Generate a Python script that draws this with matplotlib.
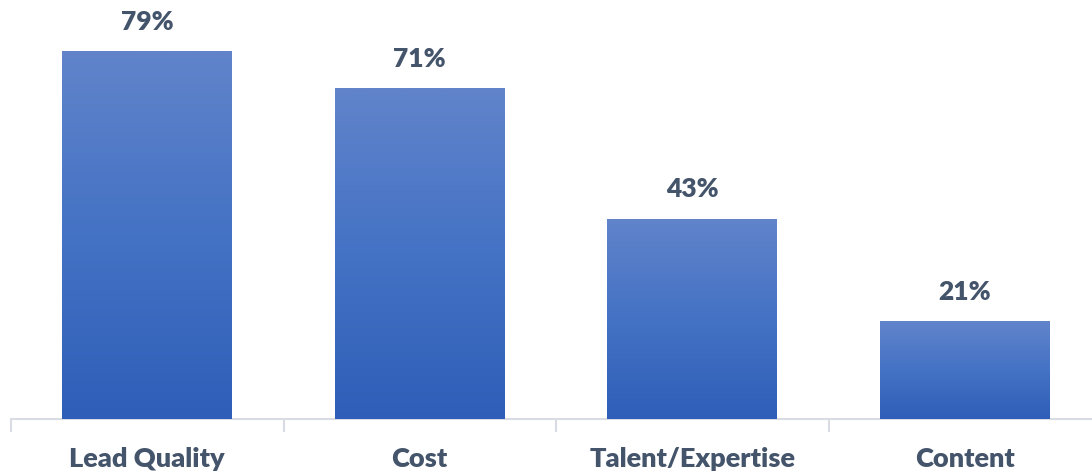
import numpy as np
import matplotlib.pyplot as plt
from matplotlib.colors import LinearSegmentedColormap

categories = ["Lead Quality", "Cost", "Talent/Expertise", "Content"]
values = [79, 71, 43, 21]

W, H, DPI = 1092, 473, 100
fig = plt.figure(figsize=(W / DPI, H / DPI), dpi=DPI)

x0, x1 = 11, 1101
y_axis = 419
ax = fig.add_axes([x0 / W, (H - y_axis) / H, (x1 - x0) / W, y_axis / H])

grad = LinearSegmentedColormap.from_list("bar", ["#2E5EB8", "#4472C4", "#6184CB"])
gradient = np.linspace(0, 1, 256).reshape(-1, 1)

text_color = "#44546A"
font = "Lato"

bars = ax.bar(range(len(categories)), values, width=0.623, color="#4472C4", zorder=2)
for bar, v in zip(bars, values):
    bx, bw = bar.get_x(), bar.get_width()
    im = ax.imshow(gradient, cmap=grad, origin="lower", aspect="auto",
                   extent=(bx, bx + bw, 0, v), zorder=3)
    im.set_clip_path(bar)
    ax.text(bx + bw / 2, v + 6.3, f"{v}%", ha="center", va="center",
            fontsize=19, fontweight="heavy", color=text_color, family=font)

ax.set_xlim(-0.5, len(categories) - 0.5)
ax.set_ylim(0, 89.95)

for s in ["top", "right", "left"]:
    ax.spines[s].set_visible(False)
ax.spines["bottom"].set_color("#D9DDE3")
ax.spines["bottom"].set_linewidth(1.5)
ax.set_yticks([])

ax.set_xticks(range(len(categories)))
ax.set_xticklabels(categories, fontsize=19.5, fontweight="heavy", color=text_color, family=font)
ax.tick_params(axis="x", which="major", length=0, pad=20)
ax.set_xticks(np.arange(-0.5, len(categories)), minor=True)
ax.tick_params(axis="x", which="minor", length=9, width=1.5, color="#D9DDE3")

fig.savefig("out.png", dpi=DPI)
